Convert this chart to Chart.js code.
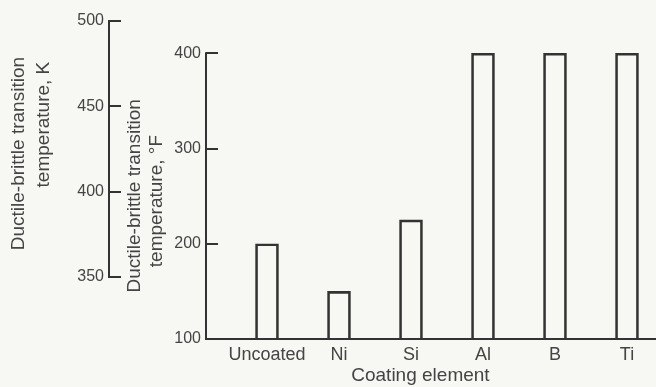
<!DOCTYPE html>
<html>
<head>
<meta charset="utf-8">
<script src="https://cdn.jsdelivr.net/npm/chart.js@4/dist/chart.umd.min.js"></script>
<style>
  html, body { margin: 0; padding: 0; background: #f7f7f3; }
  #wrap { width: 656px; height: 387px; position: relative; }
</style>
</head>
<body>
<div id="wrap"><canvas id="c"></canvas></div>
<script>
// ---- data ----
const categories = ['Uncoated', 'Ni', 'Si', 'Al', 'B', 'Ti'];
const tempF = [200, 150, 225, 400, 400, 400];
const ticksF = [100, 200, 300, 400];
const ticksK = [350, 400, 450, 500];
const titleK = ['Ductile-brittle transition', 'temperature, K'];
const titleF = ['Ductile-brittle transition', 'temperature, \u00b0F'];
const titleX = 'Coating element';

const INK = '#333333';
const TXT = '#444444';
const pad = n => '\u00a0'.repeat(n);

const axisPlugin = {
  id: 'axisLines',
  afterDraw(chart) {
    const ctx = chart.ctx;
    ctx.save();
    ctx.strokeStyle = INK;
    ctx.lineWidth = 2;
    [['yK', ticksK], ['yF', ticksF]].forEach(([id, t]) => {
      const s = chart.scales[id];
      const x = s.right;
      const yTop = s.getPixelForValue(Math.max(...t));
      const yBot = s.getPixelForValue(Math.min(...t));
      ctx.beginPath();
      ctx.moveTo(x, yTop - 1);
      ctx.lineTo(x, yBot + 1);
      t.forEach(v => {
        const y = Math.round(s.getPixelForValue(v));
        ctx.moveTo(x, y);
        ctx.lineTo(x + 12, y);
      });
      ctx.stroke();
    });
    ctx.restore();
  }
};

new Chart(document.getElementById('c'), {
  type: 'bar',
  data: {
    datasets: [{
      data: categories.map((c, i) => ({ x: i, y: tempF[i] })),
      yAxisID: 'yF',
      xAxisID: 'x',
      backgroundColor: 'rgba(0,0,0,0)',
      borderColor: INK,
      borderWidth: 2,
      barThickness: 23
    }]
  },
  options: {
    responsive: true,
    maintainAspectRatio: false,
    animation: false,
    layout: { padding: { top: 21, right: 0, bottom: 0, left: 0 } },
    plugins: { legend: { display: false }, tooltip: { enabled: false } },
    scales: {
      x: {
        type: 'linear',
        position: 'bottom',
        offset: false,
        min: -0.8472,
        max: 5.4028,
        afterBuildTicks: s => { s.ticks = categories.map((c, i) => ({ value: i })); },
        afterFit: s => { s.height = 48; },
        grid: { display: false, drawTicks: false, offset: false },
        border: { display: true, color: INK, width: 2 },
        ticks: {
          autoSkip: false, maxRotation: 0, padding: 5,
          color: TXT,
          font: { family: 'Liberation Sans', size: 18 },
          callback: (v, i) => categories[i]
        },
        title: {
          display: true, text: titleX + pad(4), color: TXT,
          font: { family: 'Liberation Sans', size: 19, lineHeight: 1.15 },
          padding: { top: 0, bottom: 0 }
        }
      },
      yK: {
        type: 'linear',
        position: 'left',
        weight: 10,
        min: 313.7,
        max: 500,
        afterBuildTicks: s => { s.ticks = ticksK.map(v => ({ value: v })); },
        afterFit: s => { s.width = 109; },
        grid: { display: false, drawTicks: false },
        border: { display: false },
        ticks: { padding: 5, color: TXT, font: { family: 'Liberation Sans', size: 16 } },
        title: {
          display: true,
          text: [pad(10) + titleK[0], pad(21) + titleK[1]],
          color: TXT,
          font: { family: 'Liberation Sans', size: 19, lineHeight: 1.32 },
          padding: { top: 6, bottom: 0 }
        }
      },
      yF: {
        type: 'linear',
        position: 'left',
        weight: 0,
        min: 100,
        max: 433.9,
        afterBuildTicks: s => { s.ticks = ticksF.map(v => ({ value: v })); },
        afterFit: s => { s.width = 97; },
        grid: { display: false, drawTicks: false },
        border: { display: false },
        ticks: { padding: 5, color: TXT, font: { family: 'Liberation Sans', size: 16 } },
        title: {
          display: true,
          text: [titleF[0] + pad(6), titleF[1] + pad(8)],
          color: TXT,
          font: { family: 'Liberation Sans', size: 19, lineHeight: 1.16 },
          padding: { top: 15, bottom: 0 }
        }
      }
    }
  },
  plugins: [axisPlugin]
});
</script>
</body>
</html>
